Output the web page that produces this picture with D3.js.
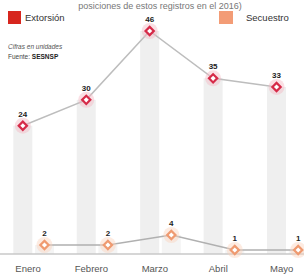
<!DOCTYPE html>
<html><head><meta charset="utf-8">
<script src="https://cdn.jsdelivr.net/npm/d3@7"></script>
<style>body{margin:0;background:#fff}svg{display:block}</style>
</head><body>
<script>
const months = ["Enero","Febrero","Marzo","Abril","Mayo"];
const series = ["Extorsión","Secuestro"];
const extorsion = [24,30,46,35,33];
const secuestro = [2,2,4,1,1];
const W=304,H=277;
const svg=d3.select("body").append("svg").attr("width",W).attr("height",H);
const font="'Liberation Sans Narrow','Liberation Sans',Arial,sans-serif";
const baseY=254;
const x0=d3.scaleBand().domain(months).range([12,309]).paddingInner(20/63).paddingOuter(0);
const x1=d3.scaleBand().domain(series).range([0,x0.bandwidth()]);
const yE=d3.scaleLinear().domain([0,46]).range([229,31]);
const yS=d3.scaleLinear().domain([0,4]).range([255,235]);
const cx=(m,s)=>x0(m)+x1(s)+x1.bandwidth()/2;

// title
svg.append("text").attr("x",160).attr("y",8.5).attr("text-anchor","middle")
  .attr("font-family",font).attr("font-size",9).attr("fill","#777")
  .text("posiciones de estos registros en el 2016)");

// bars
const bw=19;
svg.selectAll("rect.be").data(extorsion).join("rect").attr("class","be")
  .attr("x",(d,i)=>cx(months[i],series[0])-bw/2).attr("width",bw)
  .attr("y",d=>yE(d)).attr("height",d=>baseY-yE(d)).attr("fill","#efefef");
svg.selectAll("rect.bs").data(secuestro).join("rect").attr("class","bs")
  .attr("x",(d,i)=>cx(months[i],series[1])-bw/2).attr("width",bw)
  .attr("y",d=>yS(d)).attr("height",d=>baseY-yS(d)).attr("fill","#f4f4f4");

// baseline
svg.append("line").attr("x1",0).attr("x2",W).attr("y1",baseY).attr("y2",baseY)
  .attr("stroke","#c8c8c8").attr("stroke-width",1.5);

// legend
svg.append("rect").attr("x",8).attr("y",11).attr("width",13).attr("height",13).attr("fill","#d7261e");
svg.append("text").attr("x",25).attr("y",21).attr("font-family",font).attr("font-size",9.5).attr("fill","#333").text(series[0]);
svg.append("rect").attr("x",219).attr("y",11).attr("width",14).attr("height",13).attr("fill","#f39c76");
svg.append("text").attr("x",246).attr("y",21).attr("font-family",font).attr("font-size",9.5).attr("fill","#333").text(series[1]);

// notes
svg.append("text").attr("x",8).attr("y",49).attr("font-family",font).attr("font-size",6.5)
  .attr("font-style","italic").attr("fill","#555").text("Cifras en unidades");
const src=svg.append("text").attr("x",8).attr("y",59).attr("font-family",font).attr("font-size",6.5).attr("fill","#444");
src.append("tspan").text("Fuente: ");
src.append("tspan").attr("font-weight","bold").attr("fill","#222").text("SESNSP");

// lines
const lineE=d3.line().x((d,i)=>cx(months[i],series[0])).y(d=>yE(d));
const lineS=d3.line().x((d,i)=>cx(months[i],series[1])).y(d=>yS(d));
svg.append("path").attr("d",lineE(extorsion)).attr("fill","none").attr("stroke","#bdbdbd").attr("stroke-width",1.5);
svg.append("path").attr("d",lineS(secuestro)).attr("fill","none").attr("stroke","#b0b0b0").attr("stroke-width",1.5);

// markers
function markers(data,s,y,col,glow){
  const g=svg.append("g");
  data.forEach((d,i)=>{
    const X=cx(months[i],s),Y=y(d);
    g.append("circle").attr("cx",X).attr("cy",Y).attr("r",8).attr("fill",glow).attr("opacity",0.45);
    g.append("path").attr("d",d3.symbol(d3.symbolSquare,34)()).attr("transform",`translate(${X},${Y}) rotate(45)`)
      .attr("fill","#fff").attr("stroke",col).attr("stroke-width",2.2);
    g.append("text").attr("x",X).attr("y",Y-9).attr("text-anchor","middle").attr("font-family",font)
      .attr("font-size",8).attr("font-weight","bold").attr("fill","#222").text(d);
  });
}
markers(extorsion,series[0],yE,"#d62a48","#f5b8c4");
markers(secuestro,series[1],yS,"#ef9a70","#fbd3bd");

// x labels
svg.selectAll("text.xl").data(months).join("text").attr("class","xl")
  .attr("x",d=>x0(d)+16).attr("y",272).attr("text-anchor","middle")
  .attr("font-family",font).attr("font-size",9.5).attr("fill","#555").text(d=>d);
</script>
</body></html>
